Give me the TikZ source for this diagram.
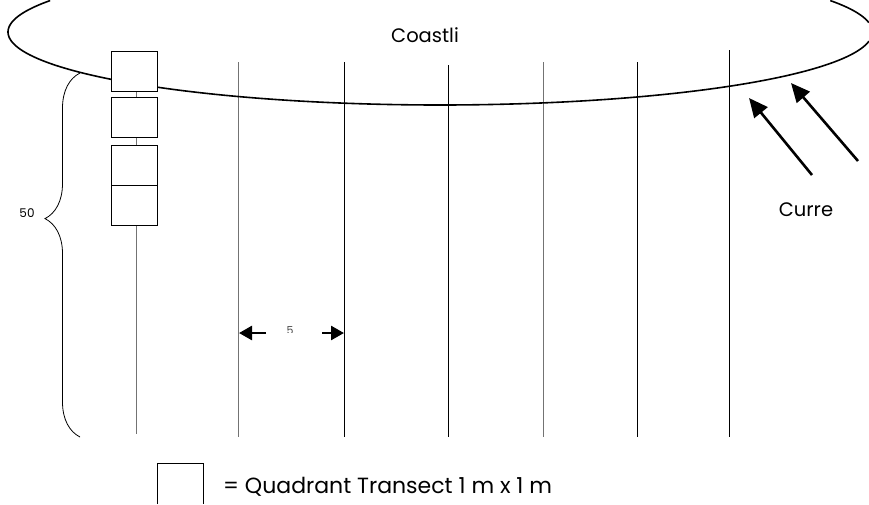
\documentclass[tikz,border=0pt]{standalone}
\usepackage{fontspec}
\setmainfont{Poppins}
\usetikzlibrary{arrows.meta,decorations.pathreplacing}
\begin{document}
\begin{tikzpicture}[x=1pt,y=-1pt,
  transect/.style={line width=0.9pt},
  transectgray/.style={line width=1pt,draw=black!55},
  quad/.style={draw,line width=0.8pt,minimum width=46pt,minimum height=40pt,inner sep=0pt},
  current/.style={line width=2.6pt,-{Triangle[length=19pt,width=17pt]}},
  dimarrow/.style={line width=2.6pt,-{Triangle[length=13pt,width=14pt]}},
  coast/.style={line width=1.6pt},
  lbl/.style={font=\fontsize{19.5}{22}\selectfont,inner sep=0pt}]
\useasboundingbox (0,0) rectangle (869,504);
% transect lines
\draw[transectgray] (238,62) -- (238,437);
\draw[transect] (344,62) -- (344,437);
\draw[transect] (448,65) -- (448,437);
\draw[transectgray] (543,62) -- (543,437);
\draw[transect] (637,62) -- (637,437);
\draw[transect] (729,50) -- (729,437);
\draw[transectgray] (136,91) -- (136,434);
% coastline (visible parts of the ellipse only)
\draw[coast] plot[domain=154.5:352.8,samples=160,smooth] ({440.2+432.2*cos(\x)},{32-73*sin(\x)});
\draw[coast] plot[domain=7.4:25.5,samples=20,smooth] ({440.2+432.2*cos(\x)},{32-73*sin(\x)});
% quadrats
\node[quad,fill=white] (q1) at (134,71) {};
\node[quad,fill=white] (q2) at (134,117) {};
\node[quad,fill=white] (q3) at (134,165) {};
\node[quad,fill=white] (q4) at (134,205) {};
% labels
\node[lbl] (coastlbl) at (425,35) {Coastli};
\node[lbl] (curre) at (806,210) {Curre};
% currents
\coordinate (c1s) at (812,175);
\coordinate (c1e) at (749,98);
\coordinate (c2s) at (858,161);
\coordinate (c2e) at (791,83);
\draw[current] (c1s) -- (c1e);
\draw[current] (c2s) -- (c2e);
% brace
\draw[line width=0.8pt,decorate,decoration={brace,amplitude=35pt,aspect=0.6}] (80,437) -- (80,73);
\node[font=\fontsize{12}{14}\selectfont,inner sep=0pt] (fifty) at (27,213) {50};
% spacing arrows
\coordinate (d1s) at (266,333);
\coordinate (d1e) at (239,333);
\coordinate (d2s) at (322,333);
\coordinate (d2e) at (344,333);
\draw[dimarrow] (d1s) -- (d1e);
\draw[dimarrow] (d2s) -- (d2e);
\begin{scope}
\clip (280,322) rectangle (300,332);
\node[font=\fontsize{11}{12}\selectfont,inner sep=0pt,text=black!70] (five) at (290,331) {5};
\end{scope}
% legend
\draw[line width=0.8pt] (157,504) -- (157,463) -- (203,463) -- (203,504);
\node[lbl,anchor=west,font=\fontsize{22}{24}\selectfont] (legend) at (223,487) {= Quadrant Transect 1 m x 1 m};
\end{tikzpicture}
\end{document}
